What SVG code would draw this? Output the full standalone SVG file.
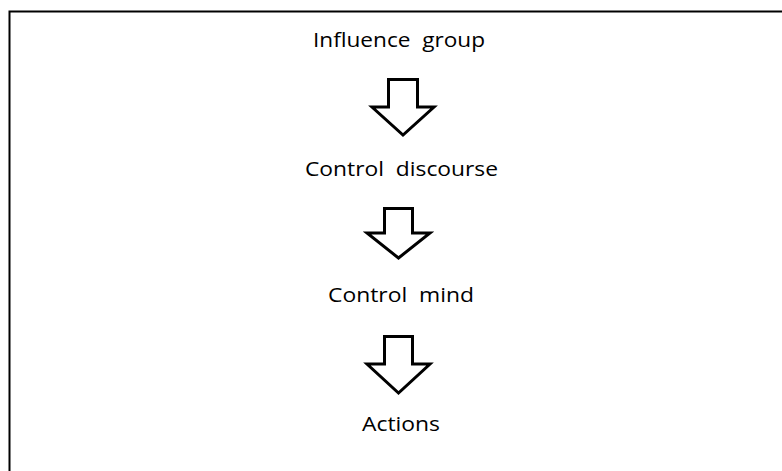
<svg xmlns="http://www.w3.org/2000/svg" width="782" height="471" viewBox="0 0 782 471">
<style>
.t{font-family:"Open Sans","Noto Sans","Liberation Sans",sans-serif;font-size:20px;fill:#000;}
.arr{fill:#fff;stroke:#000;stroke-width:3;stroke-linejoin:miter;}
</style>
<rect width="782" height="471" fill="#fff"/>
<path d="M782 11.5H9.5V471" fill="none" stroke="#000" stroke-width="2"/>
<g id="n1"><text class="t" x="313" y="47" textLength="172" lengthAdjust="spacingAndGlyphs" xml:space="preserve">Influence  group</text></g>
<g id="n2"><text class="t" x="305" y="176" textLength="193" lengthAdjust="spacingAndGlyphs" xml:space="preserve">Control  discourse</text></g>
<g id="n3"><text class="t" x="328" y="302" textLength="146" lengthAdjust="spacingAndGlyphs" xml:space="preserve">Control  mind</text></g>
<g id="n4"><text class="t" x="362" y="431" textLength="78" lengthAdjust="spacingAndGlyphs">Actions</text></g>
<g id="connectors">
<polygon class="arr" points="388.5,79.5 417.5,79.5 417.5,107 434,107 403,135 372,107 388.5,107"/>
<polygon class="arr" points="384.5,208.5 412.5,208.5 412.5,233 430,233 398.5,258 367,233 384.5,233"/>
<polygon class="arr" points="384.5,336.5 412.5,336.5 412.5,364 430,364 398.5,393 367,364 384.5,364"/>
</g>
</svg>
